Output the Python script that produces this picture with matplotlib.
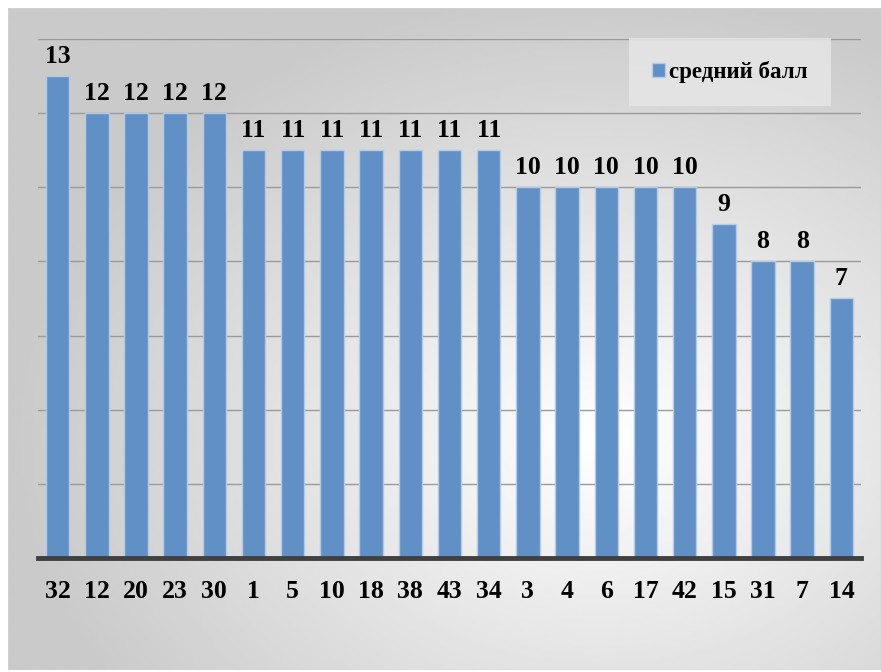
import numpy as np
import matplotlib
matplotlib.use('Agg')
from matplotlib import pyplot
from matplotlib.patches import Rectangle

pyplot.rc('font', family='Liberation Serif', weight='bold')

categories = ['32', '12', '20', '23', '30', '1', '5', '10', '18', '38', '43',
              '34', '3', '4', '6', '17', '42', '15', '31', '7', '14']
scores = [13, 12, 12, 12, 12, 11, 11, 11, 11, 11, 11, 11, 10, 10, 10, 10, 10, 9, 8, 8, 7]
series_name = 'средний балл'

W, H = 881, 672
fig = pyplot.figure(figsize=(W / 100, H / 100), dpi=100)
fig.patch.set_facecolor('white')

# background panel with radial gradient
bg = fig.add_axes([8 / W, 2 / H, 873 / W, 662 / H])
bg.set_axis_off()
yy, xx = np.mgrid[0:1:300j, 0:1:400j]
r = np.sqrt((xx - 0.68) ** 2 + (yy - 0.65) ** 2)
val = np.clip(1.0 - 0.31 * r, 0.79, 1.0)
bg.imshow(val, cmap='gray', vmin=0, vmax=1, extent=[0, 1, 0, 1], aspect='auto', origin='upper')
bg.add_patch(Rectangle((0, 0), 1, 1, transform=bg.transAxes, fill=False,
                       edgecolor='#d0d0d0', linewidth=1))

ax = fig.add_axes([38 / W, (H - 558) / H, (861 - 38) / W, (558 - 39) / H])
ax.patch.set_alpha(0)
x = np.arange(len(categories))
bars = ax.bar(x, scores, width=0.6, color='#6090c6', edgecolor='#b4cbe6',
              linewidth=1, label=series_name, zorder=3)
ax.set_xlim(-0.5, len(categories) - 0.5)
ax.set_ylim(0, 14)
ax.set_yticks(range(0, 15, 2))
ax.yaxis.grid(True, color='#9a9a9a', linewidth=1, zorder=0)
ax.tick_params(axis='y', left=False, labelleft=False)
ax.tick_params(axis='x', bottom=False, pad=12)
ax.set_xticks(x)
ax.set_xticklabels(categories, fontsize=18.5, fontweight='bold')
for s in ['top', 'right', 'left']:
    ax.spines[s].set_visible(False)
ax.spines['bottom'].set_color('#404040')
ax.spines['bottom'].set_linewidth(3.5)
ax.spines['bottom'].set_zorder(4)

for xi, v in zip(x, scores):
    ax.annotate(str(v), (xi, v), xytext=(0, 6), textcoords='offset points',
                ha='center', va='bottom', fontsize=18.5, fontweight='bold')

leg = ax.legend(loc='upper right', bbox_to_anchor=(0.9636, 1.002), fontsize=16.5,
                frameon=True, handlelength=0.55, handleheight=0.55, handletextpad=0.2,
                borderpad=1.0, borderaxespad=0.0, fancybox=False)
leg.get_frame().set_facecolor('#e6e6e6')
leg.get_frame().set_edgecolor('none')
leg.get_frame().set_alpha(0.85)

pyplot.savefig('out.png', dpi=100)
